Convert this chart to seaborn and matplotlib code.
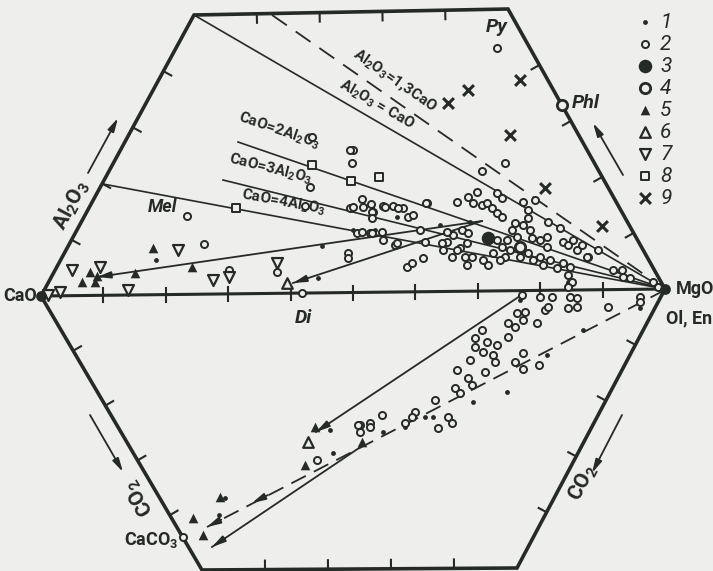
import numpy as np
import pandas as pd
import matplotlib.pyplot as plt
import seaborn as sns

ink = '#262a26'
paper = '#eeeeec'

# hexagon corners (x to the right, y downward)
hex_x = [41, 194, 508, 665, 517, 202, 41]
hex_y = [296, 15, 9, 289, 568, 570, 296]
cao = (41, 296)
mgo = (665, 289)

# lines fanning out to MgO (start points)
fan_x = [194, 272, 238, 223, 103]
fan_y = [15, 15, 142, 180, 184]
fan_style = ['-', '--', '-', '-', '-']

# trend arrows: start -> end
trend_x0 = [482, 482, 520, 665, 362]
trend_y0 = [221, 221, 296, 290, 446]
trend_x1 = [97, 293, 316, 207, 212]
trend_y1 = [277, 283, 432, 527, 547]
trend_style = ['-', '-', '-', (0, (9, 5)), '-']

# sample points by legend number
p1_x = [322, 353, 318, 156, 397, 372, 440, 470, 375, 473, 507, 583, 547, 425, 433, 405, 383, 640, 330, 333, 225, 219, 520]
p1_y = [246, 230, 278, 260, 217, 207, 225, 222, 230, 402, 392, 330, 355, 417, 417, 427, 432, 308, 430, 453, 498, 515, 300]

p2_x = [497, 505, 482, 353, 352, 427, 457, 477, 497, 523, 535, 548, 560, 588, 598, 613, 623, 570,
        407, 412, 423, 395, 383, 370, 363, 373, 383, 393, 403, 408, 350, 357,
        468, 473, 482, 487, 492, 502, 497, 502, 528, 528, 523, 515, 512, 517, 530, 532, 540, 547, 547,
        462, 468, 467, 460, 465, 472, 467, 453, 447, 443, 452, 497, 502, 507, 510, 505, 500,
        520, 528, 533, 540, 543, 550, 557, 563, 570, 568, 572, 568, 563, 568, 573, 577, 582, 587,
        622, 630, 483, 488, 493, 653, 658, 640,
        312, 350, 310, 305, 362, 353, 371, 372, 372, 385, 398, 413, 426, 187, 204, 229, 277, 348, 348,
        362, 372, 382, 397, 420, 425, 442, 447, 457, 302, 183,
        522, 540, 552, 570, 577, 568, 577, 545, 548, 517, 525, 523, 537, 508, 515, 608, 640,
        482, 475, 487, 497, 475, 483, 493, 495, 508, 470, 457, 485, 515, 523, 523, 539,
        468, 472, 455, 460, 435, 415, 412, 405, 448, 452, 438, 382, 370, 360, 360, 358, 370, 317]
p2_y = [48, 163, 171, 150, 163, 203, 202, 192, 193, 202, 200, 222, 228, 257, 250, 270, 277, 283,
        267, 263, 258, 245, 240, 233, 207, 212, 206, 206, 208, 217, 208, 233,
        197, 203, 205, 203, 208, 198, 213, 217, 210, 218, 225, 223, 230, 237, 230, 238, 240, 237, 247,
        230, 233, 243, 248, 257, 257, 265, 235, 242, 250, 257, 240, 247, 240, 250, 257, 260,
        257, 253, 260, 257, 265, 260, 268, 263, 267, 275, 282, 287, 242, 245, 240, 250, 245, 257,
        270, 278, 260, 265, 253, 282, 287, 297,
        137, 150, 187, 206, 199, 207, 204, 212, 218, 207, 208, 215, 203, 216, 244, 270, 272, 253, 258,
        232, 233, 232, 243, 230, 242, 243, 232, 250, 293, 537,
        295, 297, 297, 297, 298, 308, 307, 310, 307, 313, 312, 320, 323, 323, 327, 307, 302,
        330, 338, 342, 345, 347, 352, 355, 362, 337, 360, 370, 372, 362, 353, 369, 365,
        378, 385, 388, 393, 400, 412, 417, 423, 417, 423, 428, 415, 423, 425, 432, 425, 427, 460]

p3_x = [488]
p3_y = [238]
p4_x = [520, 562]
p4_y = [247, 105]
p5_x = [153, 90, 82, 95, 97, 135, 192, 315, 305, 362, 220, 193, 203]
p5_y = [248, 272, 282, 282, 276, 273, 267, 427, 465, 442, 497, 518, 535]
p6_x = [287, 308]
p6_y = [283, 442]
p7_x = [178, 72, 100, 60, 48, 128, 213, 229, 277]
p7_y = [250, 270, 267, 292, 295, 290, 280, 277, 263]
p8_x = [312, 351, 379, 236]
p8_y = [165, 181, 177, 208]
p9_x = [448, 468, 520, 510, 545, 602]
p9_y = [103, 90, 80, 135, 188, 226]

legend_labels = ['1', '2', '3', '4', '5', '6', '7', '8', '9']

# marker, size, face, edge, linewidth
styles = [
    ('o', 12, ink, ink, 0),
    ('o', 26, paper, ink, 1.4),
    ('o', 95, ink, ink, 0),
    ('o', 55, paper, ink, 2.0),
    ('^', 48, ink, ink, 0),
    ('^', 58, paper, ink, 1.6),
    ('v', 62, paper, ink, 1.6),
    ('s', 38, paper, ink, 1.4),
    ('x', 60, ink, ink, 2.2),
]
groups = [(p1_x, p1_y), (p2_x, p2_y), (p3_x, p3_y), (p4_x, p4_y), (p5_x, p5_y),
          (p6_x, p6_y), (p7_x, p7_y), (p8_x, p8_y), (p9_x, p9_y)]

plt.rcParams['font.family'] = ['Roboto', 'DejaVu Sans']
plt.rcParams['mathtext.fontset'] = 'custom'
plt.rcParams['mathtext.rm'] = 'Roboto:bold'
plt.rcParams['mathtext.default'] = 'regular'

fig = plt.figure(figsize=(7.13, 5.71), dpi=100, facecolor=paper)
ax = fig.add_axes([0, 0, 1, 1])
ax.set_facecolor(paper)
ax.set_xlim(0, 713)
ax.set_ylim(571, 0)
ax.axis('off')

# frame
ax.plot(hex_x, hex_y, color=ink, lw=2.6, solid_joinstyle='miter', zorder=3)
ax.plot([cao[0], mgo[0]], [cao[1], mgo[1]], color=ink, lw=2.2, zorder=3)

# edge ticks pointing inward
cx, cy = 353, 290
for i in range(6):
    x0, y0, x1, y1 = hex_x[i], hex_y[i], hex_x[i + 1], hex_y[i + 1]
    dx, dy = x1 - x0, y1 - y0
    L = np.hypot(dx, dy)
    nx, ny = -dy / L, dx / L
    if (cx - x0) * nx + (cy - y0) * ny < 0:
        nx, ny = -nx, -ny
    for f in [0.2, 0.4, 0.6, 0.8]:
        px, py = x0 + f * dx, y0 + f * dy
        ax.plot([px, px + 9 * nx], [py, py + 9 * ny], color=ink, lw=1.5, zorder=3)
for f in np.arange(1, 10) / 10:
    px = cao[0] + f * (mgo[0] - cao[0])
    py = cao[1] + f * (mgo[1] - cao[1])
    ax.plot([px, px], [py - 7, py + 7], color=ink, lw=1.5, zorder=3)

# fan lines to MgO
for x0, y0, ls in zip(fan_x, fan_y, fan_style):
    if ls == '--':
        ax.plot([x0, mgo[0]], [y0, mgo[1]], color=ink, lw=1.3, ls=(0, (10, 6)), zorder=2)
    else:
        ax.plot([x0, mgo[0]], [y0, mgo[1]], color=ink, lw=1.2, zorder=2)

head = '-|>,head_length=0.8,head_width=0.2'

# trend arrows
for x0, y0, x1, y1, ls in zip(trend_x0, trend_y0, trend_x1, trend_y1, trend_style):
    ax.plot([x0, x1], [y0, y1], color=ink, lw=1.3, ls=ls, zorder=2)
    d = np.hypot(x1 - x0, y1 - y0)
    bx, by = x1 - (x1 - x0) * 16 / d, y1 - (y1 - y0) * 16 / d
    ax.annotate('', xy=(x1, y1), xytext=(bx, by),
                arrowprops=dict(arrowstyle=head, color=ink, lw=1.3, shrinkA=0, shrinkB=0),
                zorder=4)
# arrow on the dashed line halfway
ax.annotate('', xy=(252, 503), xytext=(268, 495),
            arrowprops=dict(arrowstyle=head, color=ink, lw=1.3, shrinkA=0, shrinkB=0), zorder=4)

# points
for (gx, gy), (m, s, fc, ec, lw) in zip(groups, styles):
    df = pd.DataFrame({'x': gx, 'y': gy})
    sns.scatterplot(data=df, x='x', y='y', marker=m, s=s, color=fc,
                    edgecolor=ec, linewidth=lw, ax=ax, zorder=5, legend=False)

# vertex dots
sns.scatterplot(x=[cao[0], mgo[0]], y=[cao[1], mgo[1]], s=60, color=ink,
                edgecolor=ink, linewidth=0, ax=ax, zorder=6, legend=False)

# legend
for i, ((m, s, fc, ec, lw), lab) in enumerate(zip(styles, legend_labels)):
    ly = 22 + 22 * i
    ax.scatter([645], [ly], marker=m, s=s, c=fc, edgecolors=ec, linewidths=lw, zorder=6)
    ax.text(660, ly, lab, fontsize=15, style='italic', color=ink, va='center', ha='left')

# arrows along the axes
arr = dict(arrowstyle=head, color=ink, lw=1.3, shrinkA=0, shrinkB=0)
ax.annotate('', xy=(118, 118), xytext=(88, 173), arrowprops=arr)
ax.annotate('', xy=(123, 472), xytext=(90, 415), arrowprops=arr)
ax.annotate('', xy=(592, 473), xytext=(622, 415), arrowprops=arr)
ax.annotate('', xy=(593, 123), xytext=(623, 175), arrowprops=arr)

tkw = dict(color=ink, fontweight='bold')
ax.text(72, 205, 'Al$_2$O$_3$', fontsize=15, rotation=62, ha='center', va='center', **tkw)
ax.text(140, 497, 'CO$_2$', fontsize=15, rotation=121, ha='center', va='center', **tkw)
ax.text(583, 483, 'CO$_2$', fontsize=15, rotation=62, ha='center', va='center', **tkw)
ax.text(37, 296, 'CaO', fontsize=13, ha='right', va='center', **tkw)
ax.text(676, 289, 'MgO', fontsize=13, ha='left', va='center', **tkw)
ax.text(712, 318, 'Ol, En', fontsize=13, ha='right', va='center', **tkw)
ax.text(178, 540, 'CaCO$_3$', fontsize=13, ha='right', va='center', **tkw)
ax.text(303, 318, 'Di', fontsize=14, style='italic', ha='center', va='center', **tkw)
ax.text(497, 27, 'Py', fontsize=14, style='italic', ha='center', va='center', **tkw)
ax.text(572, 103, 'Phl', fontsize=14, style='italic', ha='left', va='center', **tkw)
ax.text(162, 207, 'Mel', fontsize=13, style='italic', ha='center', va='center', **tkw)

# labels of the MgO fan lines, sitting on their lines
ax.text(395, 80, 'Al$_2$O$_3$=1,3CaO', fontsize=11, rotation=-34.8, ha='center', va='center', **tkw)
ax.text(377, 105, 'Al$_2$O$_3$ = CaO', fontsize=11, rotation=-30, ha='center', va='center', **tkw)
ax.text(276, 139, 'CaO=2Al$_2$O$_3$', fontsize=11, rotation=-19, ha='center', va='bottom',
        rotation_mode='anchor', **tkw)
ax.text(268, 177, 'CaO=3Al$_2$O$_3$', fontsize=11, rotation=-14, ha='center', va='bottom',
        rotation_mode='anchor', **tkw)
ax.text(282, 211, 'CaO=4Al$_2$O$_3$', fontsize=11, rotation=-10.5, ha='center', va='bottom',
        rotation_mode='anchor', **tkw)

fig.savefig('out.png', dpi=100, facecolor=paper)
plt.close(fig)
